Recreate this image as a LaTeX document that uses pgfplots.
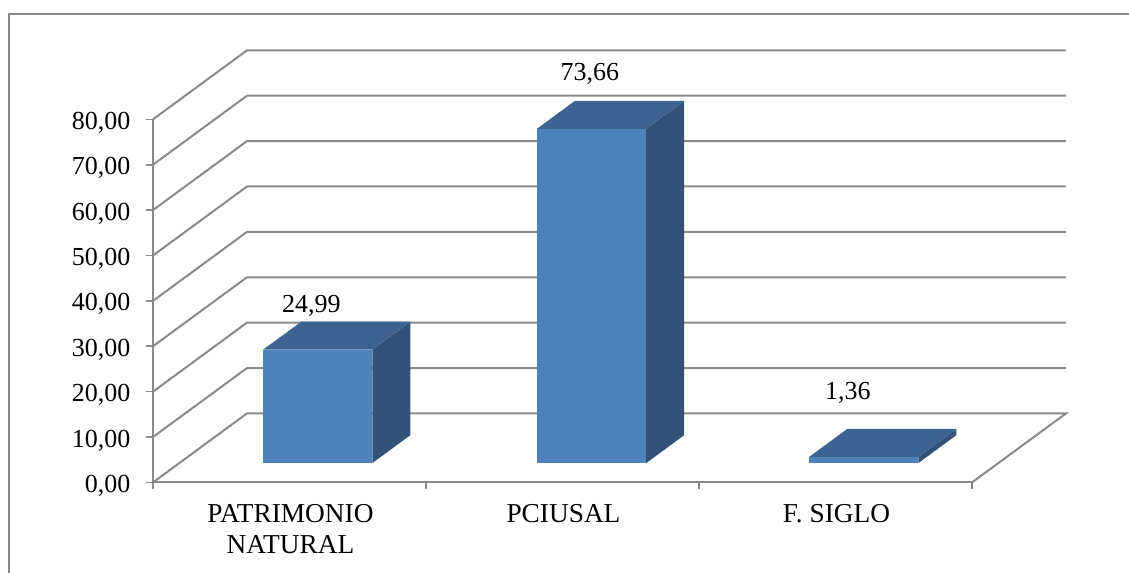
\documentclass[border=0pt]{standalone}
\usepackage{fontspec}
\setmainfont{Liberation Serif}
\usepackage{pgfplots}
\pgfplotsset{compat=1.18}

\definecolor{gridgray}{HTML}{8A8A8A}
\definecolor{barfront}{HTML}{4F81BD}
\definecolor{bartop}{HTML}{3D6490}
\definecolor{barside}{HTML}{32527A}

% one 3D column: left x, right x, value (depth runs from 0.28 to 0.685)
\newcommand{\column}[3]{%
  \addplot3[draw=none,fill=barside,mark=none] coordinates {(#2,0.28,0) (#2,0.685,0) (#2,0.685,#3) (#2,0.28,#3)} --cycle;
  \addplot3[draw=none,fill=bartop,mark=none] coordinates {(#1,0.28,#3) (#2,0.28,#3) (#2,0.685,#3) (#1,0.685,#3)} --cycle;
  \addplot3[draw=none,fill=barfront,mark=none] coordinates {(#1,0.28,0) (#2,0.28,0) (#2,0.28,#3) (#1,0.28,#3)} --cycle;
}

\begin{document}
\begin{tikzpicture}
\useasboundingbox (0pt,0pt) rectangle (846.75pt,-429pt);
\draw[gridgray,line width=1.5pt] (6.75pt,-440pt) -- (6.75pt,-10.5pt) -- (860pt,-10.5pt);
\begin{axis}[
  at={(114.75pt,-361.8pt)},
  anchor=south west,
  x={(204.75pt,0pt)},
  y={(70.5pt,51.75pt)},
  z={(0pt,3.404pt)},
  xmin=-0.5,xmax=2.5,
  ymin=0,ymax=1,
  zmin=0,zmax=80,
  clip=false,
  axis line style={draw=none},
  major tick length=0pt,
  xtick={0,1,2},
  xticklabels={PATRIMONIO\\NATURAL,PCIUSAL,F. SIGLO},
  ytick=\empty,
  ztick={0,10,20,30,40,50,60,70,80},
  zticklabels={{0,00},{10,00},{20,00},{30,00},{40,00},{50,00},{60,00},{70,00},{80,00}},
  xtick pos=left,
  ztick pos=left,
  tick label style={text=black},
  x tick label style={font=\fontsize{20.5}{23.6}\selectfont,align=center,anchor=north,yshift=-12.6pt,xshift=0.75pt},
  z tick label style={font=\fontsize{19.5}{23}\selectfont,anchor=east,xshift=-13.5pt,yshift=-2.5pt},
]
% walls
\pgfplotsinvokeforeach{10,20,30,40,50,60,70,80}{
  \addplot3[gridgray,line width=1.5pt,mark=none] coordinates {(-0.5,0,#1) (-0.5,1,#1) (2.5,1,#1)};
}
\addplot3[gridgray,line width=1.5pt,mark=none] coordinates {(-0.5,0,0) (-0.5,1,0) (2.5,1,0) (2.5,0,0)};
% axes and tick marks
\addplot3[gridgray,line width=1.5pt,mark=none] coordinates {(-0.5,0,80) (-0.5,0,0) (2.5,0,0)};
\pgfplotsinvokeforeach{0,10,20,30,40,50,60,70,80}{
  \addplot3[gridgray,line width=1.2pt,mark=none] coordinates {(-0.5,0,#1) (-0.525,0,#1)};
}
\pgfplotsinvokeforeach{-0.5,0.5,1.5,2.5}{
  \addplot3[gridgray,line width=1.2pt,mark=none] coordinates {(#1,0,0) (#1,0,-1.5)};
}
% columns
\column{-0.193}{0.207}{24.99}
\column{0.81}{1.21}{73.66}
\column{1.807}{2.207}{1.36}
% value labels
\node[font=\fontsize{19.5}{23}\selectfont] at (axis cs:-0.02,0.29,34.4) {24,99};
\node[font=\fontsize{19.5}{23}\selectfont] at (axis cs:1,0.29,85.7) {73,66};
\node[font=\fontsize{19.5}{23}\selectfont] at (axis cs:1.945,0.29,15.3) {1,36};
\end{axis}
\end{tikzpicture}
\end{document}
